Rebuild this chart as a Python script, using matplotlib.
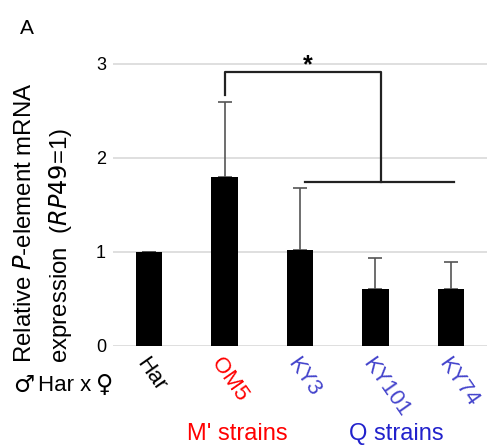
import numpy as np
import matplotlib.pyplot as plt

plt.rcParams['font.family'] = ['Liberation Sans', 'DejaVu Sans']

strains = ['Har', 'OM5', 'KY3', 'KY101', 'KY74']
expression = [1.0, 1.79, 1.02, 0.6, 0.6]
err_upper = [0.0, 0.8, 0.66, 0.33, 0.29]
label_colors = ['black', '#ff0000', '#4444cc', '#4444cc', '#4444cc']

fig = plt.figure(figsize=(4.87, 4.48), dpi=100)
ax = fig.add_axes([0.232, 0.228, 0.768, 0.672])

x = np.arange(len(strains))
ax.bar(x, expression, width=0.35, color='black', zorder=3)
ax.errorbar(x, expression, yerr=[np.zeros(len(x)), err_upper], fmt='none',
            ecolor='#555555', elinewidth=1.2, capsize=5, capthick=1.2, zorder=2)

ax.set_xlim(-0.48, 4.48)
ax.set_ylim(0, 3.2)
ax.set_yticks([0, 1, 2, 3])
ax.yaxis.grid(True, color='#d9d9d9', linewidth=1.2, zorder=0)
ax.set_axisbelow(True)
for s in ax.spines.values():
    s.set_visible(False)
ax.tick_params(axis='y', length=0, labelsize=13, pad=5)
ax.tick_params(axis='x', length=0, labelsize=16, pad=6)
ax.set_xticks(x)
ax.set_xticklabels(strains, rotation=-55, ha='left', va='top', rotation_mode='anchor')
for lbl, c in zip(ax.get_xticklabels(), label_colors):
    lbl.set_color(c)

# significance bracket
ax.plot([1, 1, 3.07, 3.07], [2.67, 2.91, 2.91, 1.74], color='#222222', lw=1.6, zorder=4)
ax.plot([2.07, 4.04], [1.74, 1.74], color='#222222', lw=1.6, zorder=4)
ax.text(2.1, 2.98, '*', fontsize=18, fontweight='bold', ha='center', va='center')

fig.text(0.04, 0.925, 'A', fontsize=15)
fig.text(0.052, 0.19, r'Relative $\it{P}$-element mRNA', rotation=90,
         fontsize=17.3, ha='center', va='bottom')
fig.text(0.125, 0.19, r'expression  ($\it{RP49}$=1)', rotation=90,
         fontsize=17.3, ha='center', va='bottom')
fig.text(0.027, 0.125, '♂', fontsize=17, family=['DejaVu Sans'])
fig.text(0.078, 0.127, 'Har x', fontsize=16)
fig.text(0.198, 0.125, '♀', fontsize=17, family=['DejaVu Sans'])
fig.text(0.488, 0.018, "M' strains", fontsize=17, color='#ff0000', ha='center')
fig.text(0.813, 0.018, 'Q strains', fontsize=17, color='#2222cc', ha='center')

fig.savefig('out.png', dpi=100)
